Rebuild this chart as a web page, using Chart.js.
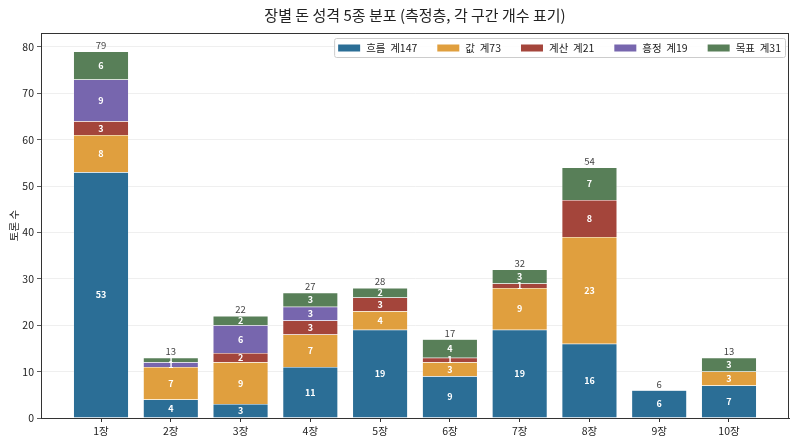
<!DOCTYPE html>
<html>
<head>
<meta charset="utf-8">
<script src="https://cdn.jsdelivr.net/npm/chart.js@4/dist/chart.umd.min.js"></script>
<style>
  html, body { margin: 0; padding: 0; background: #fff; }
</style>
</head>
<body>
<canvas id="chart" width="800" height="445"></canvas>
<script>
const chapters = ['1장', '2장', '3장', '4장', '5장', '6장', '7장', '8장', '9장', '10장'];
const seriesNames = ['흐름', '값', '계산', '흥정', '목표'];
const flow    = [53, 4, 3, 11, 19, 9, 19, 16, 6, 7];
const value   = [8, 7, 9, 7, 4, 3, 9, 23, 0, 3];
const calc    = [3, 0, 2, 3, 3, 1, 1, 8, 0, 0];
const haggle  = [9, 1, 6, 3, 0, 0, 0, 0, 0, 0];
const goal    = [6, 1, 2, 3, 2, 4, 3, 7, 0, 3];
const yTicks  = [0, 10, 20, 30, 40, 50, 60, 70, 80];

const colors = ['#2b6e96', '#e09f3e', '#a4453b', '#7766ae', '#587f58'];
const series = [flow, value, calc, haggle, goal];
const totals = chapters.map((c, i) => series.reduce((s, arr) => s + arr[i], 0));
const FONT = '"Noto Sans CJK KR", "Noto Sans", sans-serif';

const datasets = series.map((arr, k) => ({
  label: seriesNames[k] + '  계' + arr.reduce((a, b) => a + b, 0),
  data: arr.map((v, i) => ({ x: i, y: v })),
  backgroundColor: colors[k],
  borderColor: 'rgba(255,255,255,0.3)',
  borderWidth: 0.5,
  categoryPercentage: 0.79,
  barPercentage: 1
}));

// numbers inside segments + totals above bars
const barLabels = {
  id: 'barLabels',
  afterDatasetsDraw(chart) {
    const ctx = chart.ctx;
    const xs = chart.scales.x, ys = chart.scales.y;
    ctx.save();
    ctx.textAlign = 'center';
    ctx.textBaseline = 'middle';
    ctx.font = 'bold 9px ' + FONT;
    ctx.fillStyle = '#fff';
    chart.data.datasets.forEach((ds, di) => {
      chart.getDatasetMeta(di).data.forEach((bar, i) => {
        const v = ds.data[i].y;
        if (!v) return;
        ctx.fillText(String(v), bar.x, (bar.y + bar.base) / 2);
      });
    });
    ctx.font = '9.5px ' + FONT;
    ctx.fillStyle = '#444';
    ctx.textBaseline = 'bottom';
    totals.forEach((t, i) => {
      ctx.fillText(String(t), xs.getPixelForValue(i), ys.getPixelForValue(t) - 1.5);
    });
    // axes frame (all four sides)
    const a = chart.chartArea;
    ctx.strokeStyle = '#333';
    ctx.lineWidth = 1;
    ctx.strokeRect(a.left + 0.5, a.top + 0.5, a.right - a.left - 1, a.bottom - a.top);
    ctx.restore();
  }
};

// legend box inside the plot, top right
const insideLegend = {
  id: 'insideLegend',
  afterDraw(chart) {
    const ctx = chart.ctx;
    const a = chart.chartArea;
    ctx.save();
    ctx.font = '10.5px ' + FONT;
    const sw = 22, sh = 7, gap = 6, between = 20, pad = 4;
    const labels = chart.data.datasets.map(d => d.label);
    const widths = labels.map(l => ctx.measureText(l).width);
    let total = pad * 2;
    widths.forEach((w, i) => { total += sw + gap + w + (i < widths.length - 1 ? between : 0); });
    const right = a.right - 4;
    const left = right - total;
    const top = a.top + 5, h = 19;
    ctx.fillStyle = 'rgba(255,255,255,0.85)';
    ctx.strokeStyle = '#cccccc';
    ctx.lineWidth = 1;
    ctx.beginPath();
    ctx.roundRect(left + 0.5, top + 0.5, total, h, 2);
    ctx.fill();
    ctx.stroke();
    let x = left + pad;
    const cy = top + h / 2 + 0.5;
    ctx.textBaseline = 'middle';
    ctx.textAlign = 'left';
    labels.forEach((l, i) => {
      ctx.fillStyle = colors[i];
      ctx.fillRect(x, cy - sh / 2, sw, sh);
      x += sw + gap;
      ctx.fillStyle = '#222';
      ctx.fillText(l, x, cy);
      x += widths[i] + between;
    });
    ctx.restore();
  }
};

new Chart(document.getElementById('chart').getContext('2d'), {
  type: 'bar',
  data: { datasets: datasets },
  plugins: [barLabels, insideLegend],
  options: {
    responsive: false,
    animation: false,
    layout: { padding: { left: 0, right: 11, top: 0, bottom: 0 } },
    plugins: {
      legend: { display: false },
      tooltip: { enabled: false },
      title: {
        display: true,
        fullSize: false,
        text: '장별 돈 성격 5종 분포 (측정층, 각 구간 개수 표기)',
        color: '#222',
        font: { family: FONT, size: 15, weight: 'normal' },
        padding: { top: 6, bottom: 9 }
      }
    },
    scales: {
      x: {
        type: 'linear',
        offset: false,
        stacked: true,
        min: -0.86,
        max: 9.86,
        afterBuildTicks: s => { s.ticks = chapters.map((c, i) => ({ value: i })); },
        afterFit: s => { s.height = 27; },
        ticks: {
          callback: v => chapters[v],
          color: '#222',
          font: { family: FONT, size: 10.5 },
          padding: 3,
          maxRotation: 0
        },
        grid: { offset: false, color: 'rgba(0,0,0,0)', drawOnChartArea: false, tickColor: '#333', tickLength: 4 },
        border: { color: '#333' }
      },
      y: {
        stacked: true,
        min: 0,
        max: 83,
        afterBuildTicks: s => { s.ticks = yTicks.map(v => ({ value: v })); },
        afterFit: s => { s.width = 41; },
        ticks: {
          color: '#222',
          font: { family: FONT, size: 10.5 },
          padding: 3
        },
        grid: { color: '#ebebeb', lineWidth: 0.8, tickColor: '#333', tickLength: 4 },
        border: { color: '#333' },
        title: {
          display: true,
          text: '토론 수',
          color: '#222',
          font: { family: FONT, size: 10.5 },
          padding: { top: 8, bottom: 0 }
        }
      }
    }
  }
});
</script>
</body>
</html>
